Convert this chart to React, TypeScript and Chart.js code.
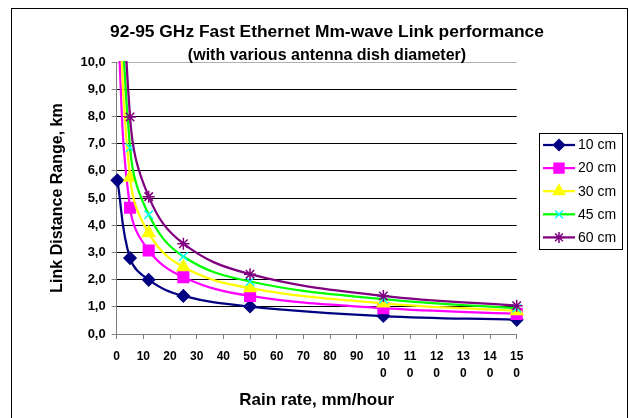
import React, { useEffect, useRef } from 'react';
import { Chart, registerables } from 'chart.js';
import { drawPoint } from 'chart.js/helpers';

Chart.register(...registerables);

// ---- data ----
const rainRates = [0.25, 5, 12, 25, 50, 100, 150];
const dist10 = [5.65, 2.79, 1.99, 1.4, 1.01, 0.66, 0.52];
const dist20 = [11.5, 4.64, 3.07, 2.09, 1.4, 0.95, 0.74];
const dist30 = [14.5, 5.75, 3.71, 2.46, 1.69, 1.13, 0.85];
const dist45 = [17.5, 6.85, 4.39, 2.85, 1.93, 1.28, 0.95];
const dist60 = [21, 7.98, 5.05, 3.32, 2.2, 1.4, 1.04];
const seriesNames = ['10 cm', '20 cm', '30 cm', '45 cm', '60 cm'];
const seriesValues = [dist10, dist20, dist30, dist45, dist60];
const titleText = '92-95 GHz Fast Ethernet Mm-wave Link performance';
const subtitleText = '(with various antenna dish diameter)';
const xAxisTitle = 'Rain rate, mm/hour';
const yAxisTitle = 'Link Distance Range, km';

// ---- styles ----
const lineColors = ['#000080', '#FF00FF', '#FFFF00', '#00FF00', '#800080'];
const markerColors = ['#000080', '#FF00FF', '#FFFF00', '#00FFFF', '#800080'];
const markerStyles = ['rectRot', 'rect', 'triangle', 'crossRot', 'star'];
const markerRadii = [6, 7.5, 7, 6, 6];
const FONT = '"Liberation Sans", Arial, Helvetica, sans-serif';

const decorPlugin = {
  id: 'decor',
  beforeDraw(chart: any) {
    const ctx = chart.ctx;
    ctx.save();
    ctx.fillStyle = '#ffffff';
    ctx.fillRect(0, 0, chart.width, chart.height);
    ctx.restore();
  },
  afterDraw(chart: any) {
    const ctx = chart.ctx;
    ctx.save();
    // outer frame
    ctx.strokeStyle = '#000';
    ctx.lineWidth = 1;
    ctx.strokeRect(11.5, 8.5, 616, 430);
    // titles
    ctx.fillStyle = '#000';
    ctx.textAlign = 'center';
    ctx.textBaseline = 'middle';
    ctx.font = `bold 17.4px ${FONT}`;
    ctx.fillText(titleText, 327, 32);
    ctx.font = `bold 16px ${FONT}`;
    ctx.fillText(subtitleText, 327, 56);
    // legend
    const bx = 539.5, by = 133.5, bw = 83, bh = 116;
    ctx.fillStyle = '#fff';
    ctx.fillRect(bx, by, bw, bh);
    ctx.strokeStyle = '#000';
    ctx.strokeRect(bx, by, bw, bh);
    ctx.font = `14px ${FONT}`;
    ctx.textAlign = 'left';
    seriesNames.forEach((name, i) => {
      const y = 145 + i * 23.1;
      ctx.strokeStyle = lineColors[i];
      ctx.lineWidth = 2.25;
      ctx.beginPath();
      ctx.moveTo(543, y);
      ctx.lineTo(575, y);
      ctx.stroke();
      ctx.fillStyle = markerColors[i];
      ctx.strokeStyle = markerColors[i];
      ctx.lineWidth = 1.5;
      drawPoint(ctx, { pointStyle: markerStyles[i], radius: markerRadii[i] - 0.5, rotation: 0, borderWidth: 1.5 }, 559, y);
      ctx.fillStyle = '#000';
      ctx.fillText(name, 578, y + 0.5);
    });
    ctx.restore();
  },
};

export default function App() {
  const canvasRef = useRef<HTMLCanvasElement | null>(null);

  useEffect(() => {
    const canvas = canvasRef.current;
    if (!canvas) return;
    const datasets = seriesValues.map((vals, i) => ({
      label: seriesNames[i],
      data: rainRates.map((x, j) => ({ x, y: vals[j] })),
      borderColor: lineColors[i],
      backgroundColor: markerColors[i],
      pointBackgroundColor: markerColors[i],
      pointBorderColor: markerColors[i],
      pointBorderWidth: 1.5,
      pointStyle: markerStyles[i],
      pointRadius: markerRadii[i],
      borderWidth: 2.25,
      tension: 0.4,
      fill: false,
      order: 4 - i,
      clip: { left: 10, top: 1, right: 10, bottom: 10 },
    }));

    const chart = new Chart(canvas, {
      type: 'line',
      data: { datasets },
      plugins: [decorPlugin],
      options: {
        responsive: false,
        animation: false,
        devicePixelRatio: 1,
        layout: { padding: { top: 62, left: 44, right: 112.3, bottom: 0 } },
        plugins: {
          legend: { display: false },
          tooltip: { enabled: false },
          title: { display: false },
        },
        scales: {
          x: {
            type: 'linear',
            min: 0,
            max: 150,
            afterFit: (s: any) => { s.height = 84; },
            ticks: {
              stepSize: 10,
              autoSkip: false,
              maxRotation: 0,
              minRotation: 0,
              padding: 9,
              color: '#000',
              font: { family: FONT, size: 12, weight: 'bold', lineHeight: 1.45 },
              callback: (v: any) => {
                const s = String(v);
                return Number(v) >= 100 ? [s.slice(0, 2), s.slice(2)] : s;
              },
            },
            grid: {
              display: true,
              drawOnChartArea: false,
              drawTicks: true,
              tickLength: 5,
              tickColor: '#808080',
            },
            border: { display: true, color: '#808080', width: 1 },
            title: {
              display: true,
              text: xAxisTitle,
              color: '#000',
              font: { family: FONT, size: 17, weight: 'bold' },
              padding: { top: 0, bottom: 7 },
            },
          },
          y: {
            type: 'linear',
            min: 0,
            max: 10,
            afterFit: (s: any) => { s.width = 72.7; },
            ticks: {
              stepSize: 1,
              padding: 6,
              color: '#000',
              font: { family: FONT, size: 13, weight: 'bold' },
              callback: (v: any) => Number(v).toFixed(1).replace('.', ','),
            },
            grid: {
              color: (c: any) => (c.tick && c.tick.value === 0 ? 'rgba(0,0,0,0)' : c.tick && c.tick.value === 10 ? '#b0b0b0' : '#000'),
              tickColor: '#808080',
              tickLength: 5,
              lineWidth: 1,
            },
            border: { display: true, color: '#808080', width: 1 },
            title: {
              display: true,
              text: yAxisTitle,
              color: '#000',
              font: { family: FONT, size: 16, weight: 'bold' },
              padding: { top: 4, bottom: 0 },
            },
          },
        },
      },
    } as any);
    return () => chart.destroy();
  }, []);

  return (
    <div style={{ position: 'absolute', left: 0, top: 0, width: 629, height: 418 }}>
      <canvas ref={canvasRef} width={629} height={418} style={{ width: 629, height: 418, display: 'block' }} />
    </div>
  );
}
